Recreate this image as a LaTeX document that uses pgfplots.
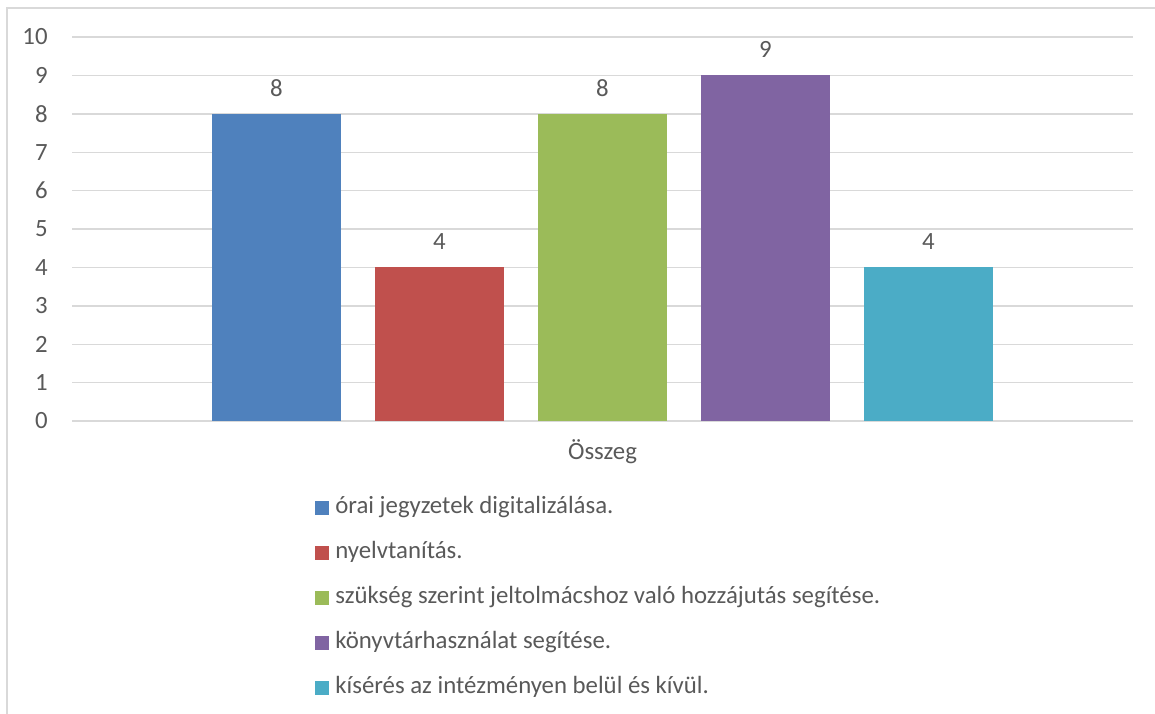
\documentclass[border=0pt]{standalone}
\usepackage{fontspec}
\setmainfont{Carlito}
\usepackage{pgfplots}
\pgfplotsset{compat=1.18}

\definecolor{xlblue}{HTML}{4F81BD}
\definecolor{xlred}{HTML}{C0504D}
\definecolor{xlgreen}{HTML}{9BBB59}
\definecolor{xlpurple}{HTML}{8064A2}
\definecolor{xlaqua}{HTML}{4BACC6}
\definecolor{txt}{HTML}{595959}
\definecolor{gridc}{HTML}{D9D9D9}

\begin{document}
\begin{tikzpicture}[font=\fontsize{12.4pt}{14.8pt}\selectfont]
% canvas 1155x713 px at 0.5pt per px
\useasboundingbox (0,0) rectangle (577.5pt,356.5pt);
\draw[gridc, line width=0.7pt] (3.5pt,-5pt) -- (3.5pt,352.5pt) -- (590pt,352.5pt);
\begin{axis}[
    at={(36pt,146pt)}, anchor=south west,
    scale only axis,
    width=530.5pt, height=192pt,
    xmin=-1.2546, xmax=5.2546,
    ymin=0, ymax=10,
    ytick={0,...,10},
    xtick={2}, xticklabels={Összeg},
    major tick length=0pt,
    axis line style={draw=none},
    ymajorgrids, grid style={gridc, line width=0.7pt},
    /pgf/number format/assume math mode=true,
    tick label style={text=txt},
    yticklabel style={anchor=east, inner sep=0pt, xshift=-12pt},
    xticklabel style={anchor=center, inner sep=0pt, yshift=-15.5pt},
    ybar, bar width=64.5pt, bar shift=0pt,
    nodes near coords,
    every node near coord/.append style={text=txt, anchor=center, yshift=13pt},
    legend style={at={(0.229,-0.167)}, anchor=north west, draw=none, fill=none,
        inner sep=0pt, row sep=0pt, column sep=3pt, text=txt,
        nodes={inner sep=0pt, text height=14pt, text depth=8.5pt}},
    legend cell align=left,
    legend image code/.code={\fill[#1] (0pt,-3.5pt) rectangle (7pt,3.5pt);},
]
\addplot[fill=xlblue, draw=none] coordinates {(0,8)};
\addplot[fill=xlred, draw=none] coordinates {(1,4)};
\addplot[fill=xlgreen, draw=none] coordinates {(2,8)};
\addplot[fill=xlpurple, draw=none] coordinates {(3,9)};
\addplot[fill=xlaqua, draw=none] coordinates {(4,4)};
\legend{órai jegyzetek digitalizálása.,
        nyelvtanítás.,
        szükség szerint jeltolmácshoz való hozzájutás segítése.,
        könyvtárhasználat segítése.,
        kísérés az intézményen belül és kívül.}
\end{axis}
\end{tikzpicture}
\end{document}
